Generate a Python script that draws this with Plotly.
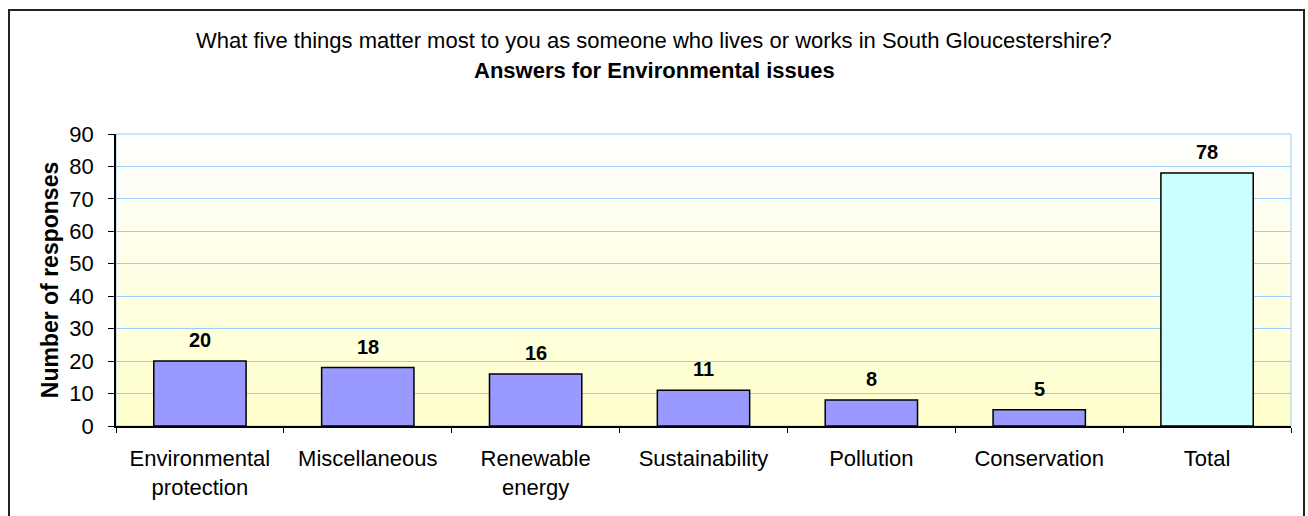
import base64
import plotly.graph_objects as go

categories = ["Environmental<br>protection", "Miscellaneous", "Renewable<br>energy",
              "Sustainability", "Pollution", "Conservation", "Total"]
values = [20, 18, 16, 11, 8, 5, 78]
bar_colors = ["#9999FF"] * 6 + ["#CCFFFF"]
y_ticks = list(range(0, 91, 10))

title_line1 = "What five things matter most to you as someone who lives or works in South Gloucestershire?"
title_line2 = "Answers for Environmental issues"
y_title = "Number of responses"

FONT = "Liberation Sans, Arial, sans-serif"
W, H = 1308, 516
L, R, T, B = 116, 17, 134, 90
pw, ph = W - L - R, H - T - B

def px_x(x):
    return (x - L) / pw

def px_y(y):
    return (H - B - y) / ph

svg = ('<svg xmlns="http://www.w3.org/2000/svg" width="100" height="100" preserveAspectRatio="none">'
       '<defs><linearGradient id="g" x1="0" y1="0" x2="0" y2="1">'
       '<stop offset="0" stop-color="#FFFFFF"/><stop offset="1" stop-color="#FFFFCC"/>'
       '</linearGradient></defs><rect width="100" height="100" fill="url(#g)"/></svg>')
svg_uri = "data:image/svg+xml;base64," + base64.b64encode(svg.encode()).decode()

fig = go.Figure()
fig.add_trace(go.Bar(
    x=categories, y=values,
    marker=dict(color=bar_colors, line=dict(color="#000000", width=1.5)),
    hoverinfo="x+y",
))

annotations = []
for c, v in zip(categories, values):
    annotations.append(dict(x=c, y=v, xref="x", yref="y", text=f"<b>{v}</b>",
                            showarrow=False, yanchor="bottom", yshift=8,
                            font=dict(family=FONT, size=20, color="#000000")))
annotations.append(dict(x=px_x(654), y=px_y(40), xref="paper", yref="paper",
                        text=title_line1, showarrow=False, xanchor="center", yanchor="middle",
                        font=dict(family=FONT, size=22, color="#000000")))
annotations.append(dict(x=px_x(654), y=px_y(71), xref="paper", yref="paper",
                        text=f"<b>{title_line2}</b>", showarrow=False, xanchor="center", yanchor="middle",
                        font=dict(family=FONT, size=22, color="#000000")))

fig.update_layout(
    width=W, height=H,
    margin=dict(l=L, r=R, t=T, b=B, pad=0),
    paper_bgcolor="#FFFFFF",
    plot_bgcolor="rgba(0,0,0,0)",
    showlegend=False,
    bargap=0.45,
    font=dict(family=FONT, size=21, color="#000000"),
    annotations=annotations,
    images=[dict(source=svg_uri, xref="paper", yref="paper", x=0, y=1, sizex=1, sizey=1,
                 sizing="stretch", layer="below", xanchor="left", yanchor="top")],
    shapes=[
        dict(type="rect", xref="paper", yref="paper", x0=0, x1=1, y0=0, y1=1,
             line=dict(color="#99CCFF", width=1), layer="below"),
        dict(type="rect", xref="paper", yref="paper",
             x0=px_x(9), x1=px_x(1304), y0=px_y(530), y1=px_y(10),
             line=dict(color="#222222", width=2), layer="above"),
    ],
    xaxis=dict(
        showline=True, linecolor="#000000", linewidth=1.5,
        ticks="outside", tickson="boundaries", ticklen=5, tickcolor="#000000", tickwidth=1,
        tickfont=dict(family=FONT, size=22, color="#000000"),
        showgrid=False, zeroline=False, ticklabelstandoff=12,
    ),
    yaxis=dict(
        range=[0, 90], tickvals=y_ticks, showline=True, linecolor="#000000", linewidth=1.5,
        ticks="outside", ticklen=6, tickcolor="#000000", tickwidth=1,
        tickfont=dict(family=FONT, size=22, color="#000000"),
        showgrid=True, gridcolor="#99CCFF", gridwidth=1, zeroline=False,
        ticklabelstandoff=10,
        title=dict(text=f"<b>{y_title}</b>", font=dict(family=FONT, size=23, color="#000000"),
                   standoff=4),
    ),
)

fig.write_html("out.html", config={"displayModeBar": False},
               post_script="document.body.style.margin='0';")
